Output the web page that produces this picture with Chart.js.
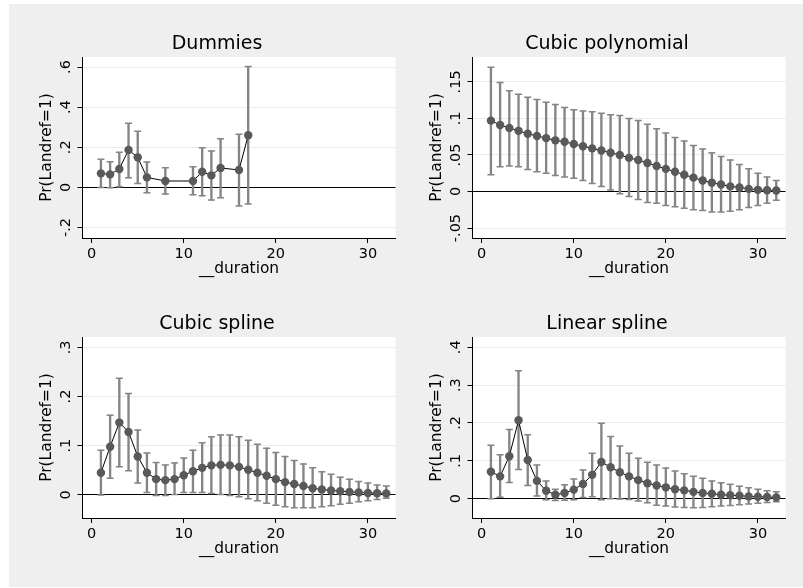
<!DOCTYPE html>
<html>
<head>
<meta charset="utf-8">
<script src="https://cdn.jsdelivr.net/npm/chart.js@4.4.1/dist/chart.umd.min.js"></script>
<style>
body { margin: 0; background: #fff; }
#bg { position: absolute; left: 9px; top: 4px; width: 794px; height: 583px; background: #efefef; }
canvas { position: absolute; }
</style>
</head>
<body>
<div id="bg"></div>
<canvas id="c1" width="368" height="260" style="left:33px;top:20px"></canvas>
<canvas id="c2" width="368" height="260" style="left:423px;top:20px"></canvas>
<canvas id="c3" width="368" height="260" style="left:33px;top:300px"></canvas>
<canvas id="c4" width="368" height="260" style="left:423px;top:300px"></canvas>
<script>
// durations
const durDummies = [1, 2, 3, 4, 5, 6, 8, 11, 12, 13, 14, 16, 17];
const durAll = [1, 2, 3, 4, 5, 6, 7, 8, 9, 10, 11, 12, 13, 14, 15, 16, 17, 18, 19, 20,
                21, 22, 23, 24, 25, 26, 27, 28, 29, 30, 31, 32];

// Dummies
const prDummies = [0.070, 0.065, 0.092, 0.187, 0.150, 0.050, 0.032, 0.032, 0.078, 0.060, 0.097, 0.087, 0.260];
const hiDummies = [0.140, 0.128, 0.175, 0.320, 0.280, 0.127, 0.098, 0.103, 0.198, 0.182, 0.243, 0.265, 0.603];
const loDummies = [0.000, -0.002, 0.003, 0.048, 0.020, -0.027, -0.033, -0.037, -0.042, -0.063, -0.052, -0.092, -0.082];

// Cubic polynomial
const prCubic = [0.097, 0.091, 0.087, 0.083, 0.079, 0.076, 0.073, 0.070, 0.068, 0.065, 0.062, 0.059, 0.056, 0.053, 0.050, 0.046,
                 0.043, 0.039, 0.035, 0.031, 0.027, 0.023, 0.019, 0.015, 0.012, 0.0095, 0.007, 0.0055, 0.0036, 0.0023, 0.0018, 0.0014];
const hiCubic = [0.170, 0.149, 0.138, 0.133, 0.129, 0.126, 0.122, 0.119, 0.115, 0.112, 0.110, 0.109, 0.107, 0.105, 0.104, 0.100,
                 0.097, 0.092, 0.086, 0.080, 0.074, 0.069, 0.063, 0.058, 0.053, 0.048, 0.043, 0.037, 0.031, 0.025, 0.020, 0.015];
const loCubic = [0.023, 0.034, 0.035, 0.034, 0.030, 0.027, 0.025, 0.022, 0.020, 0.018, 0.015, 0.011, 0.007, 0.002, -0.003, -0.007,
                 -0.011, -0.015, -0.016, -0.019, -0.021, -0.023, -0.025, -0.026, -0.028, -0.028, -0.027, -0.025, -0.022, -0.019, -0.016, -0.012];

// Cubic spline
const prCspline = [0.045, 0.098, 0.147, 0.128, 0.078, 0.045, 0.032, 0.030, 0.032, 0.040, 0.048, 0.055, 0.060, 0.061, 0.060, 0.057,
                   0.051, 0.045, 0.039, 0.032, 0.026, 0.022, 0.018, 0.0135, 0.011, 0.009, 0.0075, 0.006, 0.005, 0.004, 0.0035, 0.003];
const hiCspline = [0.091, 0.162, 0.237, 0.206, 0.132, 0.085, 0.066, 0.061, 0.065, 0.075, 0.091, 0.106, 0.118, 0.122, 0.122, 0.118,
                   0.111, 0.103, 0.095, 0.086, 0.078, 0.070, 0.063, 0.055, 0.047, 0.042, 0.036, 0.032, 0.027, 0.024, 0.020, 0.018];
const loCspline = [0.000, 0.034, 0.057, 0.049, 0.024, 0.005, -0.001, -0.001, 0.001, 0.005, 0.005, 0.005, 0.003, 0.001, -0.001, -0.004,
                   -0.008, -0.012, -0.017, -0.021, -0.024, -0.026, -0.026, -0.026, -0.024, -0.022, -0.019, -0.017, -0.014, -0.012, -0.0095, -0.007];

// Linear spline
const prLspline = [0.071, 0.059, 0.112, 0.207, 0.102, 0.047, 0.021, 0.0105, 0.015, 0.024, 0.039, 0.063, 0.097, 0.083, 0.070, 0.059,
                   0.049, 0.041, 0.035, 0.030, 0.025, 0.022, 0.018, 0.015, 0.013, 0.0105, 0.009, 0.008, 0.006, 0.005, 0.0045, 0.0035];
const hiLspline = [0.141, 0.116, 0.183, 0.338, 0.169, 0.089, 0.047, 0.025, 0.037, 0.052, 0.076, 0.120, 0.199, 0.164, 0.139, 0.120,
                   0.107, 0.096, 0.089, 0.081, 0.073, 0.066, 0.059, 0.054, 0.047, 0.042, 0.038, 0.033, 0.029, 0.025, 0.021, 0.018];
const loLspline = [0.000, 0.004, 0.043, 0.077, 0.035, 0.007, -0.003, -0.005, -0.004, -0.003, 0.003, 0.005, -0.003, 0.000, -0.001, -0.002,
                   -0.006, -0.011, -0.017, -0.019, -0.022, -0.023, -0.024, -0.023, -0.021, -0.019, -0.018, -0.016, -0.014, -0.012, -0.010, -0.008];

// tick labels
const xTicks = [0, 10, 20, 30];
const yTicksDummies = [-0.2, 0, 0.2, 0.4, 0.6];
const yTicksCubic = [-0.05, 0, 0.05, 0.1, 0.15];
const yTicksCspline = [0, 0.1, 0.2, 0.3];
const yTicksLspline = [0, 0.1, 0.2, 0.3, 0.4];

const ciColor = '#858585';
const dotColor = '#595959';
Chart.defaults.font.family = 'DejaVu Sans';
Chart.defaults.color = '#000';

// white plot region
const plotBg = {
    id: 'plotBg',
    beforeDraw(chart) {
        const { ctx, chartArea: a } = chart;
        ctx.save();
        ctx.fillStyle = '#fff';
        ctx.fillRect(a.left, a.top, a.right - a.left, a.bottom - a.top);
        ctx.restore();
    }
};

// Stata style: .2 instead of 0.2
function fmtY(v) {
    if (v === 0) return '0';
    return String(v).replace('0.', '.');
}

function desenharPainel(id, titulo, xs, pr, lo, hi, yTicks, yMin, yMax, tickPad) {
    const caps = [];
    xs.forEach((x, i) => {
        caps.push({ x: x, y: lo[i] });
        caps.push({ x: x, y: hi[i] });
    });
    const ctx = document.getElementById(id).getContext('2d');
    new Chart(ctx, {
        type: 'scatter',
        data: {
            datasets: [
                {
                    type: 'line',
                    data: xs.map((x, i) => ({ x: x, y: pr[i] })),
                    borderColor: '#000',
                    borderWidth: 1,
                    pointRadius: 4.2,
                    pointBackgroundColor: dotColor,
                    pointBorderColor: dotColor,
                    pointBorderWidth: 0,
                    tension: 0,
                    order: 1
                },
                {
                    type: 'scatter',
                    data: caps,
                    pointStyle: 'line',
                    pointRadius: 3.5,
                    pointBorderColor: ciColor,
                    pointBackgroundColor: ciColor,
                    pointBorderWidth: 1.5,
                    order: 2
                },
                {
                    type: 'bar',
                    data: xs.map((x, i) => ({ x: x, y: [lo[i], hi[i]] })),
                    backgroundColor: ciColor,
                    borderWidth: 0,
                    barThickness: 1.7,
                    order: 3
                }
            ]
        },
        options: {
            animation: false,
            responsive: false,
            devicePixelRatio: 1,
            layout: { padding: { left: 4, right: 4, top: 0, bottom: 0 } },
            plugins: {
                legend: { display: false },
                tooltip: { enabled: false },
                title: {
                    display: true,
                    text: titulo,
                    color: '#000',
                    font: { size: 19, weight: 'normal' },
                    padding: { top: 12.3, bottom: 1.9 }
                }
            },
            scales: {
                x: {
                    type: 'linear',
                    min: -1,
                    max: 33,
                    offset: false,
                    afterFit: s => { s.height = 42; },
                    afterBuildTicks: s => { s.ticks = xTicks.map(v => ({ value: v })); },
                    grid: { offset: false, drawOnChartArea: false, tickLength: 5, tickColor: '#000', tickWidth: 1 },
                    border: { color: '#000', width: 1 },
                    ticks: { font: { size: 14.5 }, color: '#000', padding: 2.5, maxRotation: 0, autoSkip: false, callback: v => String(v) },
                    title: { display: true, text: '__duration', color: '#000', font: { size: 15.4 }, padding: { top: 0, bottom: 1.8 } }
                },
                y: {
                    type: 'linear',
                    min: yMin,
                    max: yMax,
                    afterFit: s => { s.width = 45.5; },
                    afterBuildTicks: s => { s.ticks = yTicks.map(v => ({ value: v })); },
                    grid: {
                        color: c => (c.tick && c.tick.value === 0) ? '#000' : '#ebebeb',
                        lineWidth: 1,
                        tickLength: 5,
                        tickColor: '#000',
                        tickWidth: 1
                    },
                    border: { color: '#000', width: 1 },
                    ticks: {
                        font: { size: 14.5 }, color: '#000', minRotation: 90, maxRotation: 90,
                        crossAlign: 'center', padding: tickPad, autoSkip: false, callback: fmtY
                    },
                    title: { display: true, text: 'Pr(Landref=1)', color: '#000', font: { size: 15.4 }, padding: { top: 0.5, bottom: 0 } }
                }
            }
        },
        plugins: [plotBg]
    });
}

desenharPainel('c1', 'Dummies', durDummies, prDummies, loDummies, hiDummies, yTicksDummies, -0.252, 0.65, 2.0);
desenharPainel('c2', 'Cubic polynomial', durAll, prCubic, loCubic, hiCubic, yTicksCubic, -0.0636, 0.184, -2.6);
desenharPainel('c3', 'Cubic spline', durAll, prCspline, loCspline, hiCspline, yTicksCspline, -0.047, 0.321, 4.6);
desenharPainel('c4', 'Linear spline', durAll, prLspline, loLspline, hiLspline, yTicksLspline, -0.051, 0.427, 4.6);
</script>
</body>
</html>
